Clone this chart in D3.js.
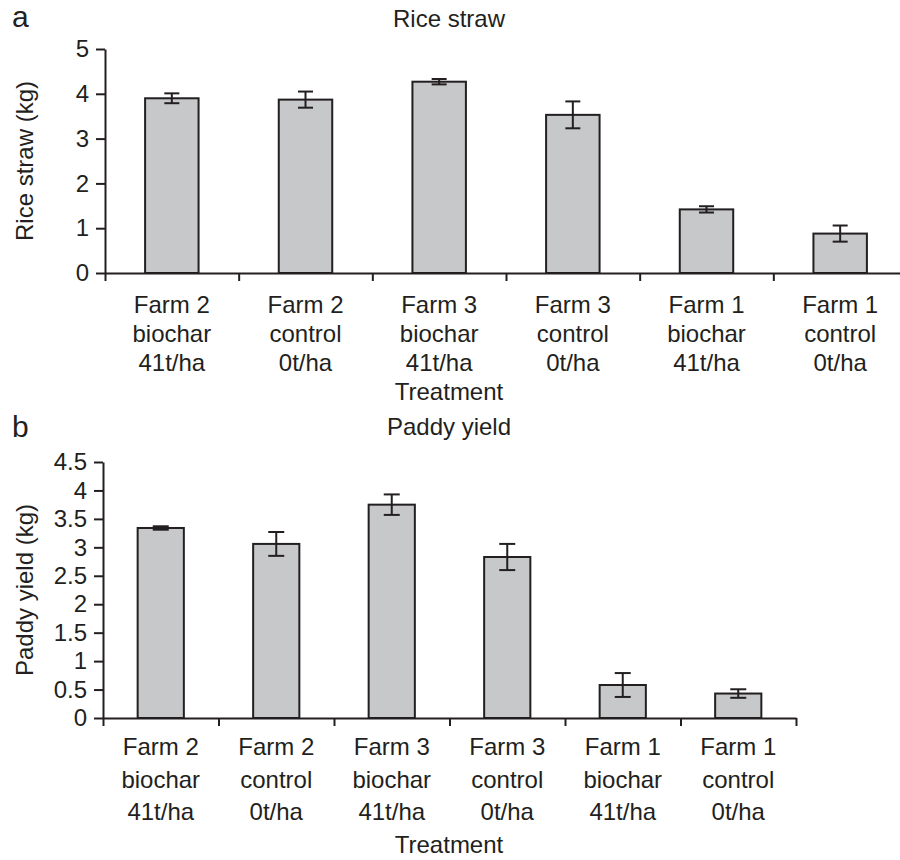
<!DOCTYPE html>
<html>
<head>
<meta charset="utf-8">
<script src="https://cdn.jsdelivr.net/npm/d3@7/dist/d3.min.js"></script>
<style>
  html, body { margin: 0; padding: 0; background: #fff; }
  svg { display: block; }
  text { font-family: "Liberation Sans", Arial, sans-serif; fill: #231f20; }
</style>
</head>
<body>
<svg id="chart" width="900" height="860"></svg>
<script>
// ---------- data ----------
const categories = [
  ["Farm 2", "biochar", "41t/ha"],
  ["Farm 2", "control", "0t/ha"],
  ["Farm 3", "biochar", "41t/ha"],
  ["Farm 3", "control", "0t/ha"],
  ["Farm 1", "biochar", "41t/ha"],
  ["Farm 1", "control", "0t/ha"]
];
const riceStraw = [3.90, 3.87, 4.27, 3.53, 1.42, 0.88];
const riceStrawErr = [0.11, 0.18, 0.06, 0.30, 0.07, 0.18];
const paddyYield = [3.34, 3.06, 3.75, 2.83, 0.58, 0.43];
const paddyYieldErr = [0.03, 0.21, 0.18, 0.23, 0.21, 0.075];
const riceTicks = [0, 1, 2, 3, 4, 5];
const riceTickLabels = ["0", "1", "2", "3", "4", "5"];
const paddyTicks = [0, 0.5, 1, 1.5, 2, 2.5, 3, 3.5, 4, 4.5];
const paddyTickLabels = ["0", "0.5", "1", "1.5", "2", "2.5", "3", "3.5", "4", "4.5"];

// ---------- style ----------
const INK = "#231f20";
const BAR_FILL = "#c7c8ca";
const FONT = 24;

const svg = d3.select("#chart");

function panel(opts) {
  const g = svg.append("g");
  const n = categories.length;
  const idx = d3.range(n);
  const x = d3.scaleBand().domain(idx).range([opts.x0, opts.x1]).padding(0);
  const xb = d3.scaleLinear().domain([0, n]).range([opts.x0, opts.x1]);
  const y = d3.scaleLinear().domain([0, opts.ymax]).range([opts.y0, opts.y1]);

  // panel letter
  g.append("text").attr("x", 12).attr("y", opts.letterY)
    .style("font-size", "30px").text(opts.letter);

  // title
  g.append("text").attr("x", opts.titleX).attr("y", opts.titleY)
    .attr("text-anchor", "middle").style("font-size", FONT + "px").text(opts.title);

  // bars
  const bw = x.bandwidth() * 0.4;
  g.selectAll("rect.bar").data(idx).enter().append("rect")
    .attr("x", i => x(i) + x.bandwidth() / 2 - bw / 2)
    .attr("y", i => y(opts.values[i]))
    .attr("width", bw)
    .attr("height", i => y(0) - y(opts.values[i]))
    .attr("fill", BAR_FILL).attr("stroke", INK).attr("stroke-width", 2);

  // error bars
  const cap = opts.cap;
  const eb = g.selectAll("g.err").data(idx).enter().append("g")
    .attr("stroke", INK).attr("stroke-width", 2);
  eb.append("line")
    .attr("x1", i => x(i) + x.bandwidth() / 2).attr("x2", i => x(i) + x.bandwidth() / 2)
    .attr("y1", i => y(opts.values[i] + opts.errors[i]))
    .attr("y2", i => y(opts.values[i] - opts.errors[i]));
  eb.append("line")
    .attr("x1", i => x(i) + x.bandwidth() / 2 - cap / 2).attr("x2", i => x(i) + x.bandwidth() / 2 + cap / 2)
    .attr("y1", i => y(opts.values[i] + opts.errors[i]))
    .attr("y2", i => y(opts.values[i] + opts.errors[i]));
  eb.append("line")
    .attr("x1", i => x(i) + x.bandwidth() / 2 - cap / 2).attr("x2", i => x(i) + x.bandwidth() / 2 + cap / 2)
    .attr("y1", i => y(opts.values[i] - opts.errors[i]))
    .attr("y2", i => y(opts.values[i] - opts.errors[i]));

  // y axis
  const ya = g.append("g").attr("transform", `translate(${opts.x0},0)`)
    .call(d3.axisLeft(y).tickValues(opts.ticks)
      .tickFormat((d, i) => opts.tickLabels[i])
      .tickSize(9).tickPadding(7).tickSizeOuter(0));
  ya.selectAll("path, line").attr("stroke", INK).attr("stroke-width", 2);
  ya.selectAll("text").style("font-size", FONT + "px").attr("fill", INK)
    .style("font-family", '"Liberation Sans", Arial, sans-serif');

  // x axis (tick marks at category boundaries)
  const xa = g.append("g").attr("transform", `translate(0,${opts.y0})`)
    .call(d3.axisBottom(xb).tickValues(d3.range(n + 1)).tickFormat("")
      .tickSize(8).tickSizeOuter(0));
  xa.selectAll("path, line").attr("stroke", INK).attr("stroke-width", 2);

  // category labels
  const lab = g.selectAll("text.cat").data(idx).enter().append("text")
    .attr("text-anchor", "middle").style("font-size", FONT + "px");
  lab.each(function (i) {
    const t = d3.select(this);
    categories[i].forEach((line, k) => {
      t.append("tspan").attr("x", x(i) + x.bandwidth() / 2)
        .attr("y", opts.labelY + k * opts.lineGap).text(line);
    });
  });

  // x axis title
  g.append("text").attr("x", opts.xTitleX).attr("y", opts.labelY + 3 * opts.lineGap)
    .attr("text-anchor", "middle").style("font-size", FONT + "px").text("Treatment");

  // y axis title
  g.append("text")
    .attr("transform", `translate(${opts.yTitleX},${(opts.y0 + opts.y1) / 2}) rotate(-90)`)
    .attr("text-anchor", "middle").style("font-size", FONT + "px").text(opts.yTitle);
}

panel({
  letter: "a", letterY: 27,
  title: "Rice straw", titleX: 449, titleY: 27,
  x0: 105, x1: 907, y0: 273, y1: 49, ymax: 5,
  values: riceStraw, errors: riceStrawErr,
  ticks: riceTicks, tickLabels: riceTickLabels,
  cap: 15, labelY: 313, lineGap: 29, xTitleX: 449,
  yTitle: "Rice straw (kg)", yTitleX: 33
});

panel({
  letter: "b", letterY: 437,
  title: "Paddy yield", titleX: 449, titleY: 435,
  x0: 103, x1: 796, y0: 718, y1: 462, ymax: 4.5,
  values: paddyYield, errors: paddyYieldErr,
  ticks: paddyTicks, tickLabels: paddyTickLabels,
  cap: 16, labelY: 755, lineGap: 32.5, xTitleX: 449,
  yTitle: "Paddy yield (kg)", yTitleX: 33
});
</script>
</body>
</html>
